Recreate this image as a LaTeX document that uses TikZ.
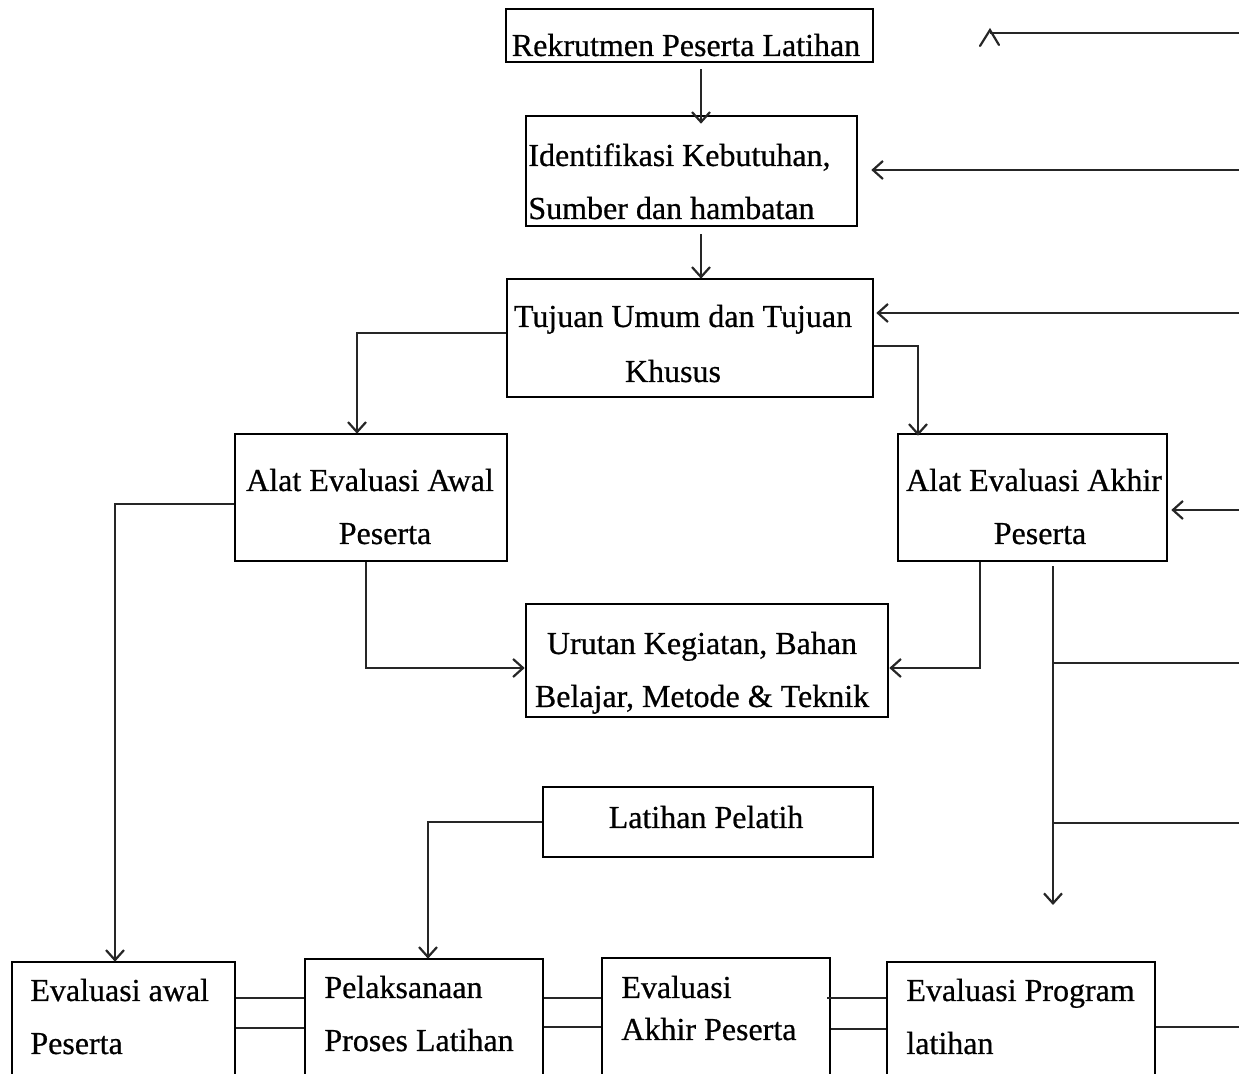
\documentclass[tikz,border=0pt]{standalone}
\usepackage{fontspec}
\setmainfont{Liberation Serif}[FakeBold=0.6]
\newfontfamily\heavyserif{Liberation Serif}[FakeBold=0.6]
\usetikzlibrary{arrows.meta}
\begin{document}
\begin{tikzpicture}[x=0.5pt,y=-0.5pt,
  box/.style={draw=black, line width=1.3pt, inner sep=0pt, fill=none},
  lbl/.style={inner sep=0pt, font=\heavyserif\fontsize{16pt}{26.5pt}\selectfont},
  ln/.style={draw=black!85, line width=1.1pt},
  arr/.style={draw=black!85, line width=1.1pt, -{Straight Barb[length=5pt,width=9pt,line width=1.1pt]}}]
\useasboundingbox (0,0) rectangle (1239,1074);
\clip (0,0) rectangle (1239,1074);
% boxes
\node[box, minimum width=183.5pt, minimum height=26.5pt] (rek) at (689.5,35.5) {};
\node[box, minimum width=165.5pt, minimum height=55pt] (idn) at (691.5,171) {};
\node[box, minimum width=183pt, minimum height=59pt] (tuj) at (690,338) {};
\node[box, minimum width=136pt, minimum height=63.5pt] (awal) at (371,497.5) {};
\node[box, minimum width=134.5pt, minimum height=63.5pt] (akhir) at (1032.5,497.5) {};
\node[box, minimum width=181pt, minimum height=56.5pt] (urut) at (707,660.5) {};
\node[box, minimum width=165pt, minimum height=35pt] (lat) at (708,822) {};
\node[box, minimum width=111.5pt, minimum height=74pt] (ea) at (123.5,1036) {};
\node[box, minimum width=119pt, minimum height=75.5pt] (pel) at (424,1034.5) {};
\node[box, minimum width=114pt, minimum height=76pt] (eak) at (716,1034) {};
\node[box, minimum width=134pt, minimum height=74pt] (evp) at (1021,1036) {};
% texts (base anchor = baseline of the last line)
\node[lbl, anchor=base] (t1) at (686,56) {Rekrutmen Peserta Latihan};
\node[lbl, align=left, anchor=base west] (t2) at (528,219) {Identifikasi Kebutuhan,\\Sumber dan hambatan};
\node[lbl, align=center, anchor=base, font=\heavyserif\fontsize{16pt}{27.5pt}\selectfont] (t3) at (683,382) {Tujuan Umum dan Tujuan\\Khusus\hspace*{10pt}};
\node[lbl, align=center, anchor=base] (t4) at (370,544) {Alat Evaluasi Awal\\\hspace*{15pt}Peserta};
\node[lbl, align=center, anchor=base] (t5) at (1034,544) {Alat Evaluasi Akhir\\\hspace*{6pt}Peserta};
\node[lbl, align=center, anchor=base] (t6) at (702,707) {Urutan Kegiatan, Bahan\\Belajar, Metode \& Teknik};
\node[lbl, anchor=base] (t7) at (706,828) {Latihan Pelatih};
\node[lbl, align=left, anchor=base west] (t8) at (30,1054) {Evaluasi awal\\Peserta};
\node[lbl, align=left, anchor=base west] (t9) at (324,1051) {Pelaksanaan\\Proses Latihan};
\node[lbl, align=left, anchor=base west, font=\heavyserif\fontsize{16pt}{21pt}\selectfont] (t10) at (621,1040) {Evaluasi\\Akhir Peserta};
\node[lbl, align=left, anchor=base west] (t11) at (906,1054) {Evaluasi Program\\latihan};
% free ends on the right edge
\coordinate (r1) at (1239,33);
\coordinate (r2) at (1239,170);
\coordinate (r3) at (1239,313);
\coordinate (r4) at (1239,510);
\coordinate (r5) at (1239,663);
\coordinate (r6) at (1239,823);
\coordinate (r7) at (1239,1027);
\coordinate (top) at (990,33);
\coordinate (down) at (1053,905);
\coordinate (b5) at (1053,663);
\coordinate (b6) at (1053,823);
% main flow
\draw[arr] ([xshift=5.75pt,yshift=-3pt]rek.south) -- ([xshift=4.75pt,yshift=-4.5pt]idn.north);
\draw[arr] ([xshift=4.75pt,yshift=-3.5pt]idn.south) -- ([xshift=5.5pt,yshift=-0.5pt]tuj.north);
\draw[arr] ([yshift=2.5pt]tuj.west) -| ([xshift=-7pt,yshift=-0.5pt]awal.north);
\draw[arr] ([yshift=-4pt]tuj.east) -| ([xshift=-57.25pt,yshift=-1.5pt]akhir.north);
\draw[arr] ([yshift=-3.25pt]awal.west) -| ([xshift=-4.25pt,yshift=-0.5pt]ea.north);
\draw[arr] ([xshift=-2.5pt]awal.south) |- ([yshift=-3.75pt]urut.west);
\draw[arr] ([xshift=-26.25pt]akhir.south) |- ([yshift=-3.75pt]urut.east);
\draw[arr] ([xshift=10.25pt,yshift=-2pt]akhir.south) -- (down);
\draw[ln] (b5) -- (r5);
\draw[ln] (b6) -- (r6);
\draw[arr] (lat.west) -| ([xshift=2pt,yshift=-0.5pt]pel.north);
% feedback arrows from the right edge
\draw[ln] (r1) -- (top);
\draw[ln, line cap=round] ([xshift=-5pt,yshift=-6.5pt]top) -- ([yshift=1.5pt]top) -- ([xshift=4.5pt,yshift=-6pt]top);
\draw[arr] (r2) -- ([xshift=6.5pt,yshift=0.5pt]idn.east);
\draw[arr] (r3) -- ([xshift=1pt,yshift=12.5pt]tuj.east);
\draw[arr] (r4) -- ([xshift=1.5pt,yshift=-6.25pt]akhir.east);
% bottom row links
\draw[ln] ([yshift=19pt]ea.east) -- ([yshift=19pt]ea.east -| pel.west);
\draw[ln] ([yshift=4pt]ea.east) -- ([yshift=4pt]ea.east -| pel.west);
\draw[ln] ([yshift=18.25pt]pel.east) -- ([yshift=18.25pt]pel.east -| eak.west);
\draw[ln] ([yshift=3.75pt]pel.east) -- ([yshift=3.75pt]pel.east -| eak.west);
\draw[ln] ([xshift=-2pt,yshift=18pt]eak.east) -- ([yshift=18pt]eak.east -| evp.west);
\draw[ln] ([yshift=2.5pt]eak.east) -- ([yshift=2.5pt]eak.east -| evp.west);
\draw[ln] ([yshift=4.5pt]evp.east) -- (r7);
\end{tikzpicture}
\end{document}
